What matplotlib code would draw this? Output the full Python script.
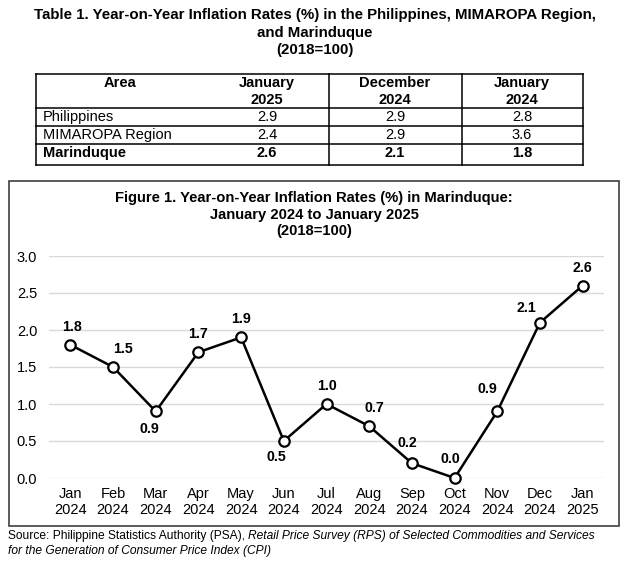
import matplotlib
matplotlib.use("Agg")
import matplotlib.pyplot as plt
from matplotlib.lines import Line2D
from matplotlib.patches import Rectangle

plt.rcParams['font.family'] = ['Liberation Sans', 'DejaVu Sans']

# ---------------- data ----------------
months = ["Jan\n2024", "Feb\n2024", "Mar\n2024", "Apr\n2024", "May\n2024", "Jun\n2024",
          "Jul\n2024", "Aug\n2024", "Sep\n2024", "Oct\n2024", "Nov\n2024", "Dec\n2024",
          "Jan\n2025"]
inflation = [1.8, 1.5, 0.9, 1.7, 1.9, 0.5, 1.0, 0.7, 0.2, 0.0, 0.9, 2.1, 2.6]
yticks = [0.0, 0.5, 1.0, 1.5, 2.0, 2.5, 3.0]

table_header = ["Area", "January\n2025", "December\n2024", "January\n2024"]
table_areas = ["Philippines", "MIMAROPA Region", "Marinduque"]
table_jan2025 = ["2.9", "2.4", "2.6"]
table_dec2024 = ["2.9", "2.9", "2.1"]
table_jan2024 = ["2.8", "3.6", "1.8"]

W, H = 629, 566
fig = plt.figure(figsize=(W / 100, H / 100), dpi=100)


def fx(x):
    return x / W


def fy(y):
    return 1 - y / H


def hline(x0, x1, y, lw=1.1, color="black"):
    fig.add_artist(Line2D([fx(x0), fx(x1)], [fy(y), fy(y)], lw=lw, color=color,
                          transform=fig.transFigure))


def vline(x, y0, y1, lw=1.1, color="black"):
    fig.add_artist(Line2D([fx(x), fx(x)], [fy(y0), fy(y1)], lw=lw, color=color,
                          transform=fig.transFigure))


# ---------------- table title ----------------
fig.text(fx(315), fy(32.5), "Table 1. Year-on-Year Inflation Rates (%) in the Philippines, MIMAROPA Region,\n"
         "and Marinduque\n(2018=100)", ha="center", va="center", fontsize=10.8,
         fontweight="bold", linespacing=1.32)

# ---------------- table ----------------
tl, tr = 36, 583
row_lines = [73.5, 108, 125.5, 143.5, 165]
for y in row_lines:
    hline(tl, tr, y)
for x in [tl, 328.5, 462, tr]:
    vline(x, row_lines[0], row_lines[-1])

col_centers = [120, 267, 395, 522]
for cx, h in zip(col_centers, table_header):
    yy = 83.3 if "\n" not in h else 91.8
    fig.text(fx(cx), fy(yy), h, ha="center", va="center", fontsize=10.5,
             fontweight="bold", linespacing=1.25)

row_y = [116.7, 134.8, 153]
cols = [table_jan2025, table_dec2024, table_jan2024]
for i, area in enumerate(table_areas):
    wt = "bold" if i == len(table_areas) - 1 else "normal"
    fig.text(fx(43), fy(row_y[i]), area, ha="left", va="center", fontsize=10.5, fontweight=wt)
    for cx, col in zip(col_centers[1:], cols):
        fig.text(fx(cx), fy(row_y[i]), col[i], ha="center", va="center", fontsize=10.5,
                 fontweight=wt)

# ---------------- chart frame ----------------
fig.add_artist(Rectangle((fx(8.5), fy(526)), fx(619) - fx(8.5), fy(181) - fy(526),
                         transform=fig.transFigure, fill=False, lw=1.2, edgecolor="#404040"))

fig.text(fx(314), fy(214.5), "Figure 1. Year-on-Year Inflation Rates (%) in Marinduque:\n"
         "January 2024 to January 2025\n(2018=100)", ha="center", va="center",
         fontsize=10.6, fontweight="bold", linespacing=1.22)

# ---------------- line chart ----------------
ax_l, ax_r, ax_t, ax_b = 49, 604, 256, 478
ax = fig.add_axes([fx(ax_l), fy(ax_b), fx(ax_r) - fx(ax_l), fy(ax_t) - fy(ax_b)])
x = list(range(len(months)))
ax.plot(x, inflation, color="black", lw=1.8, marker="o", markersize=7.5,
        markerfacecolor="white", markeredgecolor="black", markeredgewidth=1.6,
        clip_on=False, zorder=5)
ax.set_xlim(-0.5, len(months) - 0.5)
ax.set_ylim(0, 3.0)
ax.set_yticks(yticks)
ax.set_yticklabels([f"{v:.1f}" for v in yticks])
ax.set_xticks(x)
ax.set_xticklabels(months, linespacing=1.2)
ax.tick_params(axis="both", length=0, labelsize=10.5)
ax.tick_params(axis="y", pad=8.5)
ax.tick_params(axis="x", pad=6.5)
for s in ax.spines.values():
    s.set_visible(False)
ax.grid(axis="y", color="#d9d9d9", lw=1.0)
ax.set_axisbelow(True)
ax.patch.set_alpha(0)

# label offsets in pixels (dx, dy) with dy positive downward
offsets = [(2, -18), (10, -18), (-6, 18), (0, -18), (0, -18), (-7, 16), (0, -18),
           (5, -18), (-5, -20), (-4, -19), (-10, -22), (-14, -15), (0, -18)]
for xi, v, (dx, dy) in zip(x, inflation, offsets):
    ax.annotate(f"{v:.1f}", (xi, v), xytext=(dx * 0.72, -dy * 0.72),
                textcoords="offset points", ha="center", va="center",
                fontsize=10.2, fontweight="bold", annotation_clip=False)

# ---------------- source ----------------
fig.canvas.draw()
r = fig.canvas.get_renderer()
t1 = fig.text(fx(8), fy(535.5), "Source: Philippine Statistics Authority (PSA), ",
              ha="left", va="center", fontsize=8.65)
bb = t1.get_window_extent(renderer=r)
fig.text(bb.x1 / W, fy(535.5), "Retail Price Survey (RPS) of Selected Commodities and Services",
         ha="left", va="center", fontsize=8.65, style="italic")
fig.text(fx(8), fy(551), "for the Generation of Consumer Price Index (CPI)",
         ha="left", va="center", fontsize=8.65, style="italic")

fig.savefig("out.png", dpi=100)
